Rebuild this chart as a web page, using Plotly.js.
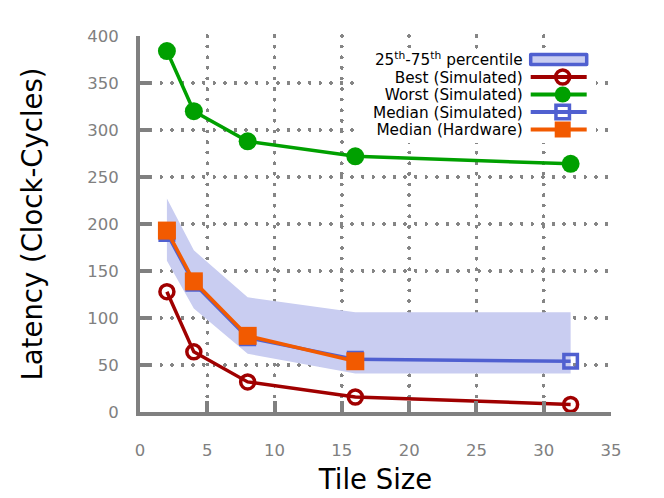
<!DOCTYPE html>
<html><head><meta charset="utf-8">
<script src="https://cdn.plot.ly/plotly-3.0.1.min.js"></script>
<style>
html,body{margin:0;padding:0;background:#fff}#c{width:664px;height:498px}
.gridlayer path{stroke-linecap:round}
</style>
</head><body><div id="c"></div>
<script>
const tileSize = [2, 4, 8, 16, 32];
const tileSizeHw = [2, 4, 8, 16];
const bestSim = [128, 64, 32, 16, 8];
const worstSim = [384, 320, 288, 272, 264];
const medianSim = [190, 137, 79, 56, 54];
const medianHw = [193, 139, 81, 54];
const p25 = [161, 110, 62, 41, 41];
const p75 = [227, 172, 122, 106, 106];

const font = "DejaVu Sans, sans-serif";
const bandX = tileSize.concat(tileSize.slice().reverse());
const bandY = p75.concat(p25.slice().reverse());

const traces = [
  {x: bandX, y: bandY, type: 'scatter', mode: 'lines', fill: 'toself',
   fillcolor: '#c9cdf1', line: {color: '#5060d0', width: 0},
   name: '25<sup>th</sup>-75<sup>th</sup> percentile', hoverinfo: 'skip'},
  {x: tileSize, y: bestSim, type: 'scatter', mode: 'lines+markers', name: 'Best (Simulated)',
   line: {color: '#a00000', width: 3.5},
   marker: {symbol: 'circle-open', size: 14, color: '#a00000', line: {width: 3.5, color: '#a00000'}}},
  {x: tileSize, y: worstSim, type: 'scatter', mode: 'lines+markers', name: 'Worst (Simulated)',
   line: {color: '#00a000', width: 3.5},
   marker: {symbol: 'circle', size: 18, color: '#00a000'}},
  {x: tileSize, y: medianSim, type: 'scatter', mode: 'lines+markers', name: 'Median (Simulated)',
   line: {color: '#5060d0', width: 3.5},
   marker: {symbol: 'square-open', size: 13.5, color: '#5060d0', line: {width: 3.5, color: '#5060d0'}}},
  {x: tileSizeHw, y: medianHw, type: 'scatter', mode: 'lines+markers', name: 'Median (Hardware)',
   line: {color: '#f25a00', width: 3.5},
   marker: {symbol: 'square', size: 18, color: '#f25a00'}}
];

const axisCommon = {
  showline: true, linecolor: '#808080', linewidth: 4,
  ticks: 'inside', ticklen: 11, tickwidth: 4, tickcolor: '#808080',
  showgrid: true, gridcolor: '#858585', gridwidth: 3.7, griddash: '0.1px,10.5px',
  zeroline: false, tickfont: {family: font, size: 16.5, color: '#808080'}
};

const layout = {
  width: 664, height: 498,
  margin: {l: 140, r: 53, t: 36, b: 86},
  paper_bgcolor: '#fff', plot_bgcolor: '#fff',
  showlegend: true,
  legend: {x: 0.966, xanchor: 'right', y: 0.968, yanchor: 'top', bgcolor: '#ffffff',
           borderwidth: 0, font: {family: font, size: 15.3, color: '#000'}, tracegroupgap: 0, itemwidth: 64},
  xaxis: Object.assign({}, axisCommon, {range: [0, 35], dtick: 5, tick0: 0, ticklabelstandoff: 20,
    title: {text: 'Tile Size', font: {family: font, size: 27.5, color: '#000'}, standoff: 12}}),
  yaxis: Object.assign({}, axisCommon, {range: [0, 400], dtick: 50, tick0: 0, ticklabelstandoff: 14,
    title: {text: 'Latency (Clock-Cycles)', font: {family: font, size: 27.5, color: '#000'}, standoff: 38}})
};

Plotly.newPlot('c', traces, layout, {staticPlot: true, displayModeBar: false}).then(function () {
  // gnuplot-style key: right-aligned text with the sample drawn to its right
  const items = Array.prototype.slice.call(document.querySelectorAll('.legend .traces'));
  if (!items.length) return;
  const pm = items[0].parentNode.getCTM();
  const textEndAbs = 522.7, symStartAbs = 530.7, symW = 56, rowH = 17.5, firstRowAbs = 59.5;
  items.forEach(function (g, i) {
    g.setAttribute('transform', 'translate(0,' + (firstRowAbs - pm.f + i * rowH) + ')');
    const t = g.querySelector('text.legendtext');
    if (t) { t.setAttribute('text-anchor', 'end'); t.setAttribute('x', textEndAbs - pm.e); }
    const lay = g.querySelector('g.layers');
    if (lay) lay.setAttribute('transform', 'translate(' + (symStartAbs - pm.e - 5) + ',0)');
    const hasFill = g.querySelector('path.js-fill') !== null;
    g.querySelectorAll('path.js-line').forEach(function (p) {
      if (hasFill) { p.style.display = 'none'; return; }
      p.setAttribute('d', 'M5,0h' + symW); p.style.strokeWidth = '4px';
    });
    g.querySelectorAll('path.js-fill').forEach(function (p) {
      p.setAttribute('d', 'M5,-5h' + symW + 'v10h-' + symW + 'z');
      p.style.stroke = '#5060d0'; p.style.strokeWidth = '3.5px'; p.style.strokeLinejoin = 'round';
    });
    g.querySelectorAll('path.point').forEach(function (p) {
      p.setAttribute('transform', 'translate(' + (5 + symW / 2) + ',0) scale(1.22)');
    });
  });
  // white key background (no border), as in the reference
  const bg = document.querySelector('.legend rect.bg');
  if (bg) {
    const bm = bg.getCTM();
    const left = 360, right = 596, top = 49, bottom = 143;
    bg.setAttribute('x', left - bm.e); bg.setAttribute('y', top - bm.f);
    bg.setAttribute('width', right - left); bg.setAttribute('height', bottom - top);
    bg.style.strokeWidth = '0px';
  }
});
</script>
</body></html>
